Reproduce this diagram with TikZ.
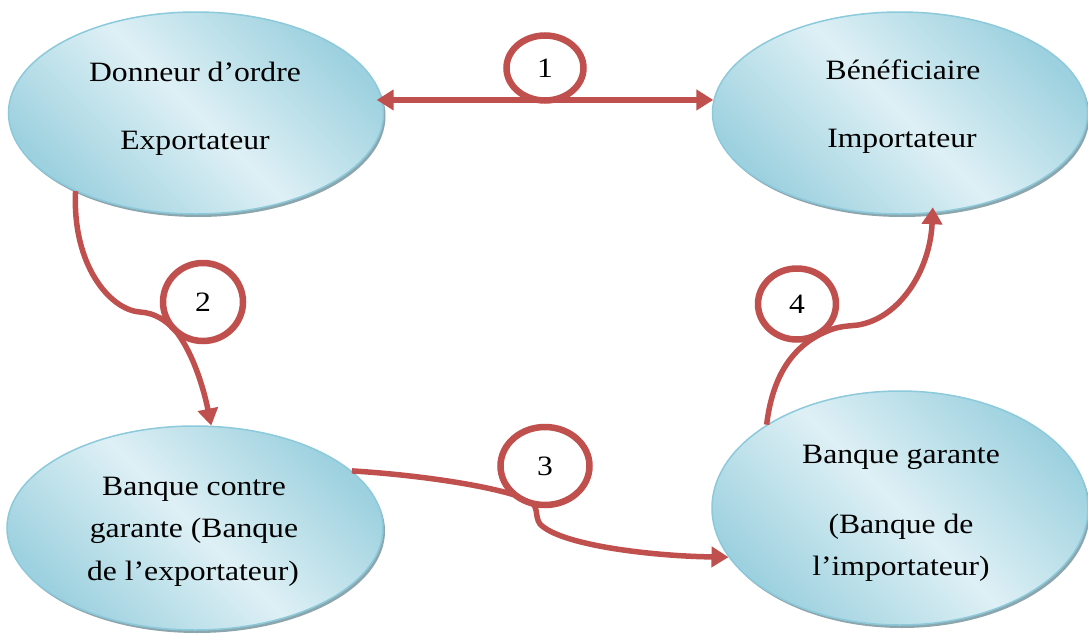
\documentclass[tikz,border=0pt]{standalone}
\usepackage{fontspec}
\setmainfont{Liberation Serif}[FakeStretch=1.13]
\usetikzlibrary{arrows.meta,shapes.geometric,shadows}
\definecolor{flowred}{HTML}{C0504D}
\definecolor{bubbleedge}{HTML}{8CCADB}
\definecolor{bubbledark}{HTML}{9DD1DF}
\definecolor{bubblelight}{HTML}{DEF0F5}
\definecolor{bubbleshadow}{HTML}{8CA6AE}
\begin{document}
\begin{tikzpicture}[x=1pt,y=-1pt,
  >={Triangle[length=17pt,width=20pt]},
  party/.style={ellipse, draw=bubbleedge, line width=1.5pt, inner sep=0pt,
    top color=bubbledark, bottom color=bubbledark, middle color=bubblelight,
    shading angle=-45,
    drop shadow={shadow xshift=2pt, shadow yshift=-3pt, fill=bubbleshadow, opacity=1}},
  flow/.style={draw=flowred, line width=5.5pt},
  badge/.style={ellipse, draw=flowred, line width=6.5pt, fill=white, inner sep=0pt,
    font=\fontsize{28}{34}\selectfont},
  txt/.style={anchor=base, inner sep=0pt, font=\fontsize{28}{34}\selectfont}]

\useasboundingbox (0,0) rectangle (1088,635);

% the four parties
\node[party, minimum width=375pt, minimum height=202pt] (don) at (196,113) {};
\node[party, minimum width=375pt, minimum height=202pt] (ben) at (900,113) {};
\node[party, minimum width=376pt, minimum height=204pt] (bcg) at (195,528) {};
\node[party, minimum width=376pt, minimum height=234pt] (bri) at (900,508) {};

% flows between the parties
\draw[flow, <->, shorten <=-6pt] (don.4) -- (ben.176);
\draw[flow, ->] (don.213) .. controls (72,265) and (110,310) .. (140,312)
  .. controls (155,313) and (165,320) .. (175,330)
  .. controls (195,355) and (205,395) .. (bcg.81);
\draw[flow, ->] (bcg.20) .. controls (420,475) and (500,487) .. (528,500)
  .. controls (540,506) and (534,516) .. (540,524)
  .. controls (560,545) and (650,556) .. (bri.196);
\draw[flow, ->, shorten >=-6pt] (bri.148) .. controls (772,380) and (790,345) .. (830,330)
  .. controls (840,326) and (850,326) .. (858,325)
  .. controls (900,318) and (930,270) .. (ben.288);

% step numbers
\node[badge, minimum width=77pt, minimum height=65pt] (n1) at (545,68) {1};
\node[badge, minimum width=80pt, minimum height=78pt] (n2) at (203,302) {2};
\node[badge, minimum width=89pt, minimum height=78pt] (n3) at (545,466) {3};
\node[badge, minimum width=78pt, minimum height=71pt] (n4) at (797,304) {4};

% labels of the parties
\node[txt] (dona) at (195,81) {Donneur d’ordre};
\node[txt] (donb) at (195,149) {Exportateur};
\node[txt] (bena) at (903,79) {Bénéficiaire};
\node[txt] (benb) at (902,147) {Importateur};
\node[txt] (bcga) at (194,495) {Banque contre};
\node[txt] (bcgb) at (194,537) {garante (Banque};
\node[txt] (bcgc) at (193,580) {de l’exportateur)};
\node[txt] (bria) at (901,463) {Banque garante};
\node[txt] (brib) at (901,533) {(Banque de};
\node[txt] (bric) at (901,575) {l’importateur)};
\end{tikzpicture}
\end{document}
